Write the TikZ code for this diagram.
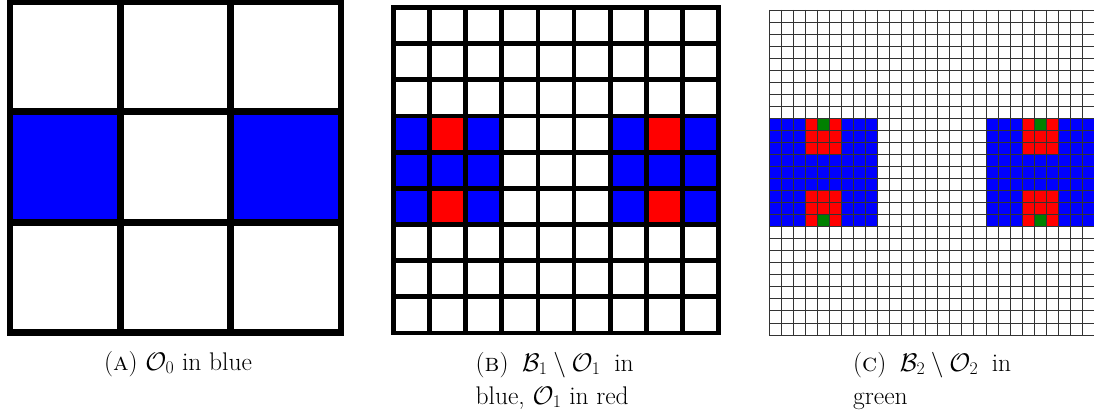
\RequirePackage{fix-cm}
\documentclass[tikz,border=0pt]{standalone}
\definecolor{pblue}{RGB}{0,0,255}
\definecolor{pred}{RGB}{255,0,0}
\definecolor{pgreen}{RGB}{0,128,0}
\tikzset{
  captext/.style={inner sep=0pt, font=\fontsize{25.5}{30}\selectfont},
  thickA/.style={line width=6.7pt, black},
  thickB/.style={line width=4.7pt, black},
  thinC/.style={line width=0.9pt, black!80}
}
\begin{document}
\begin{tikzpicture}[x=1pt,y=-1pt]
\useasboundingbox (0,0) rectangle (1094,419);
% ---------- Panel A : 3x3 ----------
\def\ax{10}\def\ay{1.5}\def\ac{110.333}
\foreach \i/\j in {0/1,2/1}
  \fill[pblue] ({\ax+\i*\ac},{\ay+\j*\ac}) rectangle ++(\ac,\ac);
\foreach \k in {1,2}{
  \draw[thickA] ({\ax+\k*\ac},\ay) -- ++(0,331);
  \draw[thickA] (\ax,{\ay+\k*\ac}) -- ++(331,0);
}
\draw[thickA] (\ax,\ay) rectangle ++(331,331);
% ---------- Panel B : 9x9 ----------
\def\bx{393.3}\def\by{7.5}\def\bc{36.167}
\foreach \i in {0,1,2,6,7,8}
  \foreach \j in {3,4,5}
    \fill[pblue] ({\bx+\i*\bc},{\by+\j*\bc}) rectangle ++(\bc,\bc);
\foreach \i/\j in {1/3,1/5,7/3,7/5}
  \fill[pred] ({\bx+\i*\bc},{\by+\j*\bc}) rectangle ++(\bc,\bc);
\foreach \k in {1,...,8}{
  \draw[thickB] ({\bx+\k*\bc},\by) -- ++(0,325.5);
  \draw[thickB] (\bx,{\by+\k*\bc}) -- ++(325.5,0);
}
\draw[thickB] (\bx,\by) rectangle ++(325.5,325.5);
% ---------- Panel C : 27x27 ----------
\def\cx{769.3}\def\cy{10}\def\cc{12.037}
\foreach \i in {0,...,8,18,19,...,26}
  \foreach \j in {9,...,17}
    \fill[pblue] ({\cx+\i*\cc},{\cy+\j*\cc}) rectangle ++(\cc,\cc);
\foreach \i in {3,4,5,21,22,23}
  \foreach \j in {9,10,11,15,16,17}
    \fill[pred] ({\cx+\i*\cc},{\cy+\j*\cc}) rectangle ++(\cc,\cc);
\foreach \i/\j in {4/9,4/17,22/9,22/17}
  \fill[pgreen] ({\cx+\i*\cc},{\cy+\j*\cc}) rectangle ++(\cc,\cc);
\foreach \k in {0,...,27}{
  \draw[thinC] ({\cx+\k*\cc},\cy) -- ++(0,325);
  \draw[thinC] (\cx,{\cy+\k*\cc}) -- ++(325,0);
}
% ---------- Captions ----------
\node[captext, anchor=base] (capA) at (178,370) {(\textsc{a}) $\mathcal{O}_0$ in blue};
\node[captext, anchor=base west] (capB1) at (475.5,371) {\makebox[158pt][s]{(\textsc{b}) \mbox{$\mathcal{B}_1\setminus\mathcal{O}_1$} in}};
\node[captext, anchor=base west] (capB2) at (475.5,404) {blue, $\mathcal{O}_1$ in red};
\node[captext, anchor=base west] (capC1) at (853,371) {\makebox[158pt][s]{(\textsc{c}) \mbox{$\mathcal{B}_2\setminus\mathcal{O}_2$} in}};
\node[captext, anchor=base west] (capC2) at (853,404) {green};
\end{tikzpicture}
\end{document}
